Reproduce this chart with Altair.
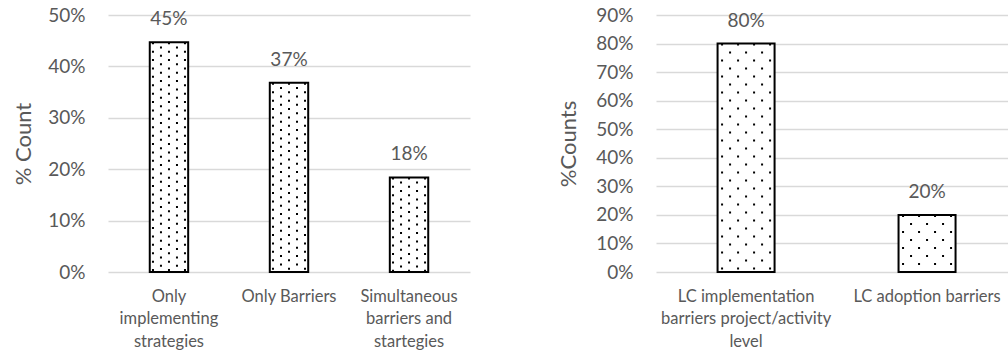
import altair as alt
import pandas as pd

# ---------------- data ----------------
left_cats = ["Only|implementing|strategies", "Only Barriers", "Simultaneous|barriers and|startegies"]
left_vals = [0.447, 0.368, 0.184]
left_ticks = [0.0, 0.1, 0.2, 0.3, 0.4, 0.5]

right_cats = ["LC implementation|barriers project/activity|level", "LC adoption barriers"]
right_vals = [0.80, 0.20]
right_ticks = [0.0, 0.1, 0.2, 0.3, 0.4, 0.5, 0.6, 0.7, 0.8, 0.9]

FONT = "Lato"
TXT = "#595959"
GRID = "#d9d9d9"


def panel(cats, vals, ticks, ymax, width, p_in, p_out, align, bandw, offsets, period,
          title, title_x):
    df = pd.DataFrame({"cat": cats, "val": vals})
    scale_x = alt.Scale(paddingInner=p_in, paddingOuter=p_out, align=align)
    axis_x = alt.Axis(title=None, labelAngle=0, labelExpr="split(datum.label, '|')",
                      labelFont=FONT, labelFontSize=16.5, labelColor=TXT,
                      labelBaseline="top", labelPadding=16, labelLineHeight=22.5,
                      labelLimit=0, domain=False, ticks=False)
    x = alt.X("cat:N", sort=cats, scale=scale_x, axis=axis_x)
    y = alt.Y(
        "val:Q", scale=alt.Scale(domain=[0, ymax], nice=False),
        axis=alt.Axis(values=ticks, format=".0%", grid=True, gridColor=GRID,
                      gridWidth=1.5, domain=False, ticks=False,
                      labelFont=FONT, labelFontSize=19, labelColor=TXT,
                      labelPadding=23, title=title, titleFont=FONT,
                      titleFontSize=22, titleFontWeight="normal", titleColor=TXT,
                      titleX=title_x, titleY=128.5, titleAlign="center",
                      titleBaseline="middle", titleAngle=270),
    )
    base = alt.Chart(df)
    layers = [base.mark_bar(fill="white", stroke=None).encode(x=x, y=y)]
    for i, off in enumerate(offsets):
        xo = alt.X("cat:N", sort=cats, scale=scale_x, axis=axis_x,
                   bandPosition=0.5 + off / bandw)
        layers.append(
            base.mark_rule(color="black", strokeWidth=2,
                           strokeDash=[2, period - 2],
                           strokeDashOffset=(i % 2) * period / 2,
                           strokeCap="butt")
            .encode(x=xo, y=y, y2=alt.datum(0))
        )
    outline = base.mark_bar(fill="white", fillOpacity=0, stroke="black",
                            strokeWidth=2).encode(x=x, y=y)
    text = base.mark_text(dy=-17, baseline="alphabetic", font=FONT, fontSize=19,
                          color=TXT).encode(x=x, y=y,
                                            text=alt.Text("val:Q", format=".0%"))
    layers += [outline, text]
    return alt.layer(*layers).properties(width=width, height=257)


left = panel(left_cats, left_vals, left_ticks, 0.5, 362, 0.68, 0.348, 0.5, 38.4,
             [-16, -8, 0, 8, 16], 8.4, "% Count", -85)
right = panel(right_cats, right_vals, right_ticks, 0.9, 352, 0.685, 0.315, 0.54, 57,
              [-24, -16, -8, 0, 8, 16, 24], 16, "%Counts", -88)

chart = (
    alt.hconcat(left, right, spacing=87)
    .properties(padding={"left": 12, "top": 6, "right": 0, "bottom": 0},
                background="white")
    .configure_view(stroke=None)
)

chart.save("out.html", embed_options={"renderer": "svg", "actions": False})
